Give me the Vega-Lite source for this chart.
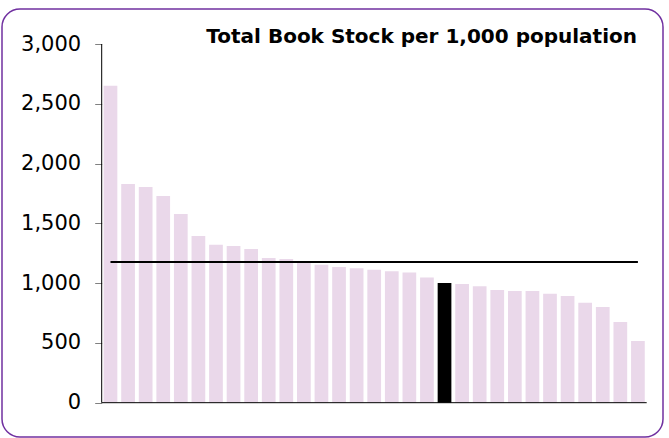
{
  "$schema": "https://vega.github.io/schema/vega-lite/v6.json",
  "width": 661,
  "height": 428,
  "autosize": "none",
  "padding": {"left": 2, "top": 9, "right": 6, "bottom": 1},
  "background": "white",
  "view": {"stroke": "#7030A0", "strokeWidth": 1.5, "cornerRadius": 18, "fill": "white"},
  "title": {
    "text": "Total Book Stock per 1,000 population",
    "anchor": "end",
    "frame": "group",
    "orient": "top",
    "offset": -54,
    "baseline": "alphabetic",
    "dx": -26,
    "font": "DejaVu Sans",
    "fontSize": 20,
    "fontWeight": "bold",
    "color": "#000000"
  },
  "datasets": {
    "libs": [
      {"id": 1, "stock": 2650, "highlight": "no"},
      {"id": 2, "stock": 1830, "highlight": "no"},
      {"id": 3, "stock": 1805, "highlight": "no"},
      {"id": 4, "stock": 1728, "highlight": "no"},
      {"id": 5, "stock": 1578, "highlight": "no"},
      {"id": 6, "stock": 1394, "highlight": "no"},
      {"id": 7, "stock": 1321, "highlight": "no"},
      {"id": 8, "stock": 1310, "highlight": "no"},
      {"id": 9, "stock": 1285, "highlight": "no"},
      {"id": 10, "stock": 1210, "highlight": "no"},
      {"id": 11, "stock": 1201, "highlight": "no"},
      {"id": 12, "stock": 1172, "highlight": "no"},
      {"id": 13, "stock": 1154, "highlight": "no"},
      {"id": 14, "stock": 1135, "highlight": "no"},
      {"id": 15, "stock": 1124, "highlight": "no"},
      {"id": 16, "stock": 1112, "highlight": "no"},
      {"id": 17, "stock": 1099, "highlight": "no"},
      {"id": 18, "stock": 1090, "highlight": "no"},
      {"id": 19, "stock": 1048, "highlight": "no"},
      {"id": 20, "stock": 1001, "highlight": "yes"},
      {"id": 21, "stock": 992, "highlight": "no"},
      {"id": 22, "stock": 973, "highlight": "no"},
      {"id": 23, "stock": 942, "highlight": "no"},
      {"id": 24, "stock": 934, "highlight": "no"},
      {"id": 25, "stock": 934, "highlight": "no"},
      {"id": 26, "stock": 911, "highlight": "no"},
      {"id": 27, "stock": 892, "highlight": "no"},
      {"id": 28, "stock": 836, "highlight": "no"},
      {"id": 29, "stock": 800, "highlight": "no"},
      {"id": 30, "stock": 675, "highlight": "no"},
      {"id": 31, "stock": 516, "highlight": "no"}
    ],
    "average": [
      {"first": 1, "last": 31, "avg": 1177}
    ]
  },
  "layer": [
    {
      "data": {"name": "libs"},
      "mark": {"type": "bar", "width": {"band": 0.78}},
      "encoding": {
        "x": {
          "field": "id",
          "type": "ordinal",
          "sort": "ascending",
          "axis": null,
          "scale": {"range": [99.7, 644.7], "paddingInner": 0, "paddingOuter": 0}
        },
        "y": {
          "field": "stock",
          "type": "quantitative",
          "scale": {"domain": [-287, 3293], "zero": false, "nice": false},
          "axis": {
            "values": [0, 500, 1000, 1500, 2000, 2500, 3000],
            "format": ",d",
            "domain": false,
            "grid": false,
            "offset": -99.7,
            "tickColor": "#808080",
            "tickSize": 7,
            "tickWidth": 1,
            "labelPadding": 14,
            "labelFont": "DejaVu Sans",
            "labelFontSize": 21,
            "labelColor": "#000000",
            "title": null
          }
        },
        "y2": {"datum": 0},
        "color": {
          "field": "highlight",
          "type": "nominal",
          "scale": {"domain": ["no", "yes"], "range": ["#ead8ea", "#000000"]},
          "legend": null
        }
      }
    },
    {
      "data": {"name": "average"},
      "mark": {"type": "rule", "color": "#000000", "strokeWidth": 2},
      "encoding": {
        "x": {"field": "first", "type": "ordinal"},
        "x2": {"field": "last"},
        "y": {"field": "avg", "type": "quantitative"}
      }
    },
    {
      "data": {"name": "average"},
      "mark": {"type": "rule", "color": "#000000", "strokeWidth": 1},
      "encoding": {
        "x": {"field": "first", "type": "ordinal", "bandPosition": 0},
        "y": {"datum": 0},
        "y2": {"datum": 3000}
      }
    },
    {
      "data": {"name": "average"},
      "mark": {"type": "rule", "color": "#000000", "strokeWidth": 1},
      "encoding": {
        "x": {"field": "first", "type": "ordinal", "bandPosition": 0},
        "x2": {"field": "last", "bandPosition": 1},
        "y": {"datum": 0}
      }
    }
  ]
}
